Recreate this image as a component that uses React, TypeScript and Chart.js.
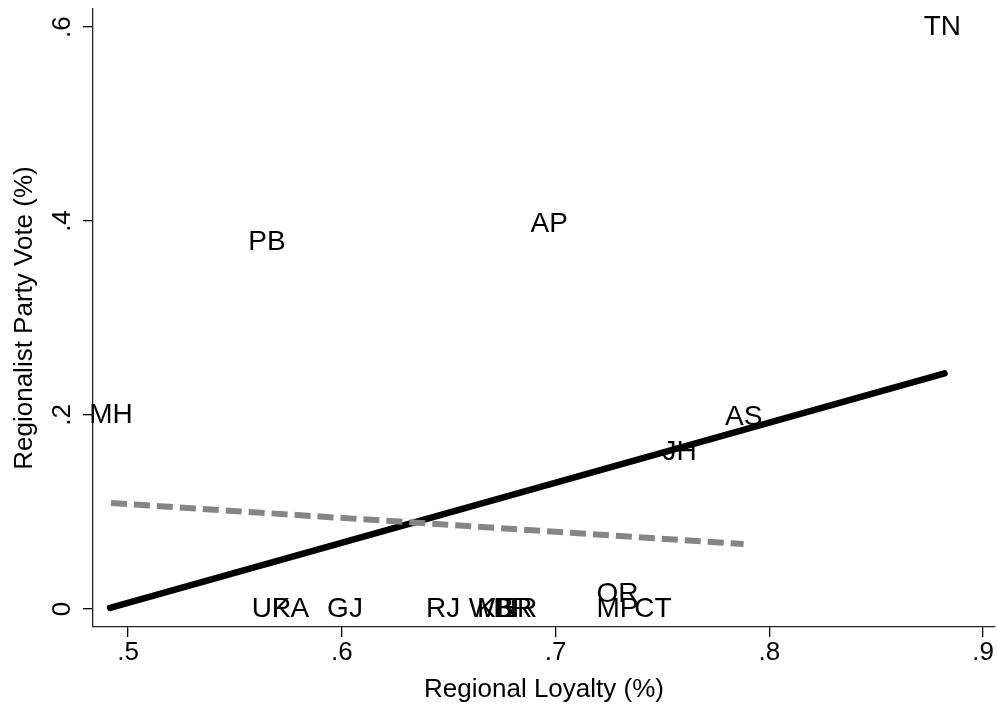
import React, { useEffect, useRef } from 'react';
import { Chart, registerables } from 'chart.js';

Chart.register(...registerables);

const FONT = '"Liberation Sans", Arial, Helvetica, sans-serif';

// State codes (marker labels) and their values
const stateCodes = ['TN', 'AP', 'PB', 'MH', 'AS', 'JH', 'OR', 'UP', 'KA', 'GJ', 'RJ', 'WB', 'KE', 'BR', 'HR', 'MP', 'CT'];
const regionalLoyalty = [0.881, 0.697, 0.565, 0.492, 0.788, 0.758, 0.729, 0.567, 0.576, 0.6015, 0.6474, 0.670, 0.672, 0.680, 0.682, 0.729, 0.7456];
const regionalistVote = [0.6, 0.397, 0.378, 0.2, 0.198, 0.162, 0.0155, 0, 0, 0, 0, 0, 0, 0, 0, 0, 0];

// Fitted lines (all states: solid; subset: dashed)
const fitAllX = [0.4916, 0.882];
const fitAllY = [0.001, 0.243];
const fitSubX = [0.492, 0.788];
const fitSubY = [0.1093, 0.067];

// Axis ticks
const xTickValues = [0.5, 0.6, 0.7, 0.8, 0.9];
const xTickLabels = ['.5', '.6', '.7', '.8', '.9'];
const yTickValues = [0, 0.2, 0.4, 0.6];
const yTickLabels = ['0', '.2', '.4', '.6'];

const xTitle = 'Regional Loyalty (%)';
const yTitle = 'Regionalist Party Vote (%)';

const labelPlugin = {
  id: 'stateLabels',
  beforeDatasetsDraw(chart: any) {
    const { ctx } = chart;
    const meta = chart.getDatasetMeta(0);
    ctx.save();
    ctx.font = `28px ${FONT}`;
    ctx.fillStyle = '#000';
    ctx.textAlign = 'center';
    ctx.textBaseline = 'middle';
    meta.data.forEach((el: any, i: number) => {
      ctx.fillText(stateCodes[i], el.x, el.y);
    });
    ctx.restore();
  },
  afterDraw(chart: any) {
    const { ctx } = chart;
    const y = chart.scales.y;
    ctx.save();
    ctx.font = `26px ${FONT}`;
    ctx.fillStyle = '#000';
    ctx.textAlign = 'center';
    ctx.textBaseline = 'alphabetic';
    yTickValues.forEach((v, i) => {
      const py = y.getPixelForValue(v);
      ctx.save();
      ctx.translate(y.right - 23, py);
      ctx.rotate(-Math.PI / 2);
      ctx.fillText(yTickLabels[i], 0, 0);
      ctx.restore();
    });
    ctx.restore();
  },
};

export default function App() {
  const canvasRef = useRef<HTMLCanvasElement | null>(null);

  useEffect(() => {
    const canvas = canvasRef.current;
    if (!canvas) return;
    const chart = new Chart(canvas, {
      type: 'scatter',
      data: {
        datasets: [
          {
            label: 'States',
            data: regionalLoyalty.map((x, i) => ({ x, y: regionalistVote[i] })),
            pointRadius: 0,
            pointHoverRadius: 0,
            showLine: false,
            order: 2,
          },
          {
            label: 'Fit (subset)',
            data: fitSubX.map((x, i) => ({ x, y: fitSubY[i] })),
            showLine: true,
            borderColor: '#858585',
            borderWidth: 6,
            borderDash: [16, 7],
            borderCapStyle: 'butt',
            pointRadius: 0,
            clip: false,
            order: 0,
          },
          {
            label: 'Fit (all)',
            data: fitAllX.map((x, i) => ({ x, y: fitAllY[i] })),
            showLine: true,
            borderColor: '#000000',
            borderWidth: 6.5,
            borderCapStyle: 'round',
            pointRadius: 0,
            clip: false,
            order: 1,
          },
        ],
      },
      options: {
        animation: false,
        responsive: false,
        events: [],
        layout: { padding: { left: 0, top: 9, right: 2, bottom: 0 } },
        plugins: {
          legend: { display: false },
          tooltip: { enabled: false },
          title: { display: false },
        },
        scales: {
          x: {
            type: 'linear',
            min: 0.4836,
            max: 0.9056,
            afterBuildTicks: (scale: any) => {
              scale.ticks = xTickValues.map((v) => ({ value: v }));
            },
            afterFit: (scale: any) => {
              scale.height = 84;
            },
            ticks: {
              color: '#000',
              font: { family: FONT, size: 26 },
              padding: 0,
              maxRotation: 0,
              minRotation: 0,
              callback: (_v: any, i: number) => xTickLabels[i],
            },
            grid: {
              display: true,
              drawOnChartArea: false,
              drawTicks: true,
              tickLength: 10,
              color: '#000',
              lineWidth: 1.3,
            },
            border: { display: true, color: '#222', width: 1.3 },
            title: {
              display: true,
              text: xTitle,
              color: '#000',
              font: { family: FONT, size: 26 },
              padding: { top: 0, bottom: 6 },
            },
          },
          y: {
            type: 'linear',
            min: -0.0186,
            max: 0.6186,
            afterBuildTicks: (scale: any) => {
              scale.ticks = yTickValues.map((v) => ({ value: v }));
            },
            afterFit: (scale: any) => {
              scale.width = 93;
            },
            ticks: {
              display: false,
            },
            grid: {
              display: true,
              drawOnChartArea: false,
              drawTicks: true,
              tickLength: 10,
              color: '#000',
              lineWidth: 1.3,
            },
            border: { display: true, color: '#222', width: 1.3 },
            title: {
              display: true,
              text: yTitle,
              color: '#000',
              font: { family: FONT, size: 26 },
              padding: { top: 9, bottom: 0 },
            },
          },
        },
      },
      plugins: [labelPlugin],
    } as any);
    return () => chart.destroy();
  }, []);

  return (
    <div style={{ position: 'fixed', left: 0, top: 0, width: 997, height: 711, background: '#fff' }}>
      <canvas ref={canvasRef} width={997} height={711} style={{ display: 'block', width: 997, height: 711 }} />
    </div>
  );
}
